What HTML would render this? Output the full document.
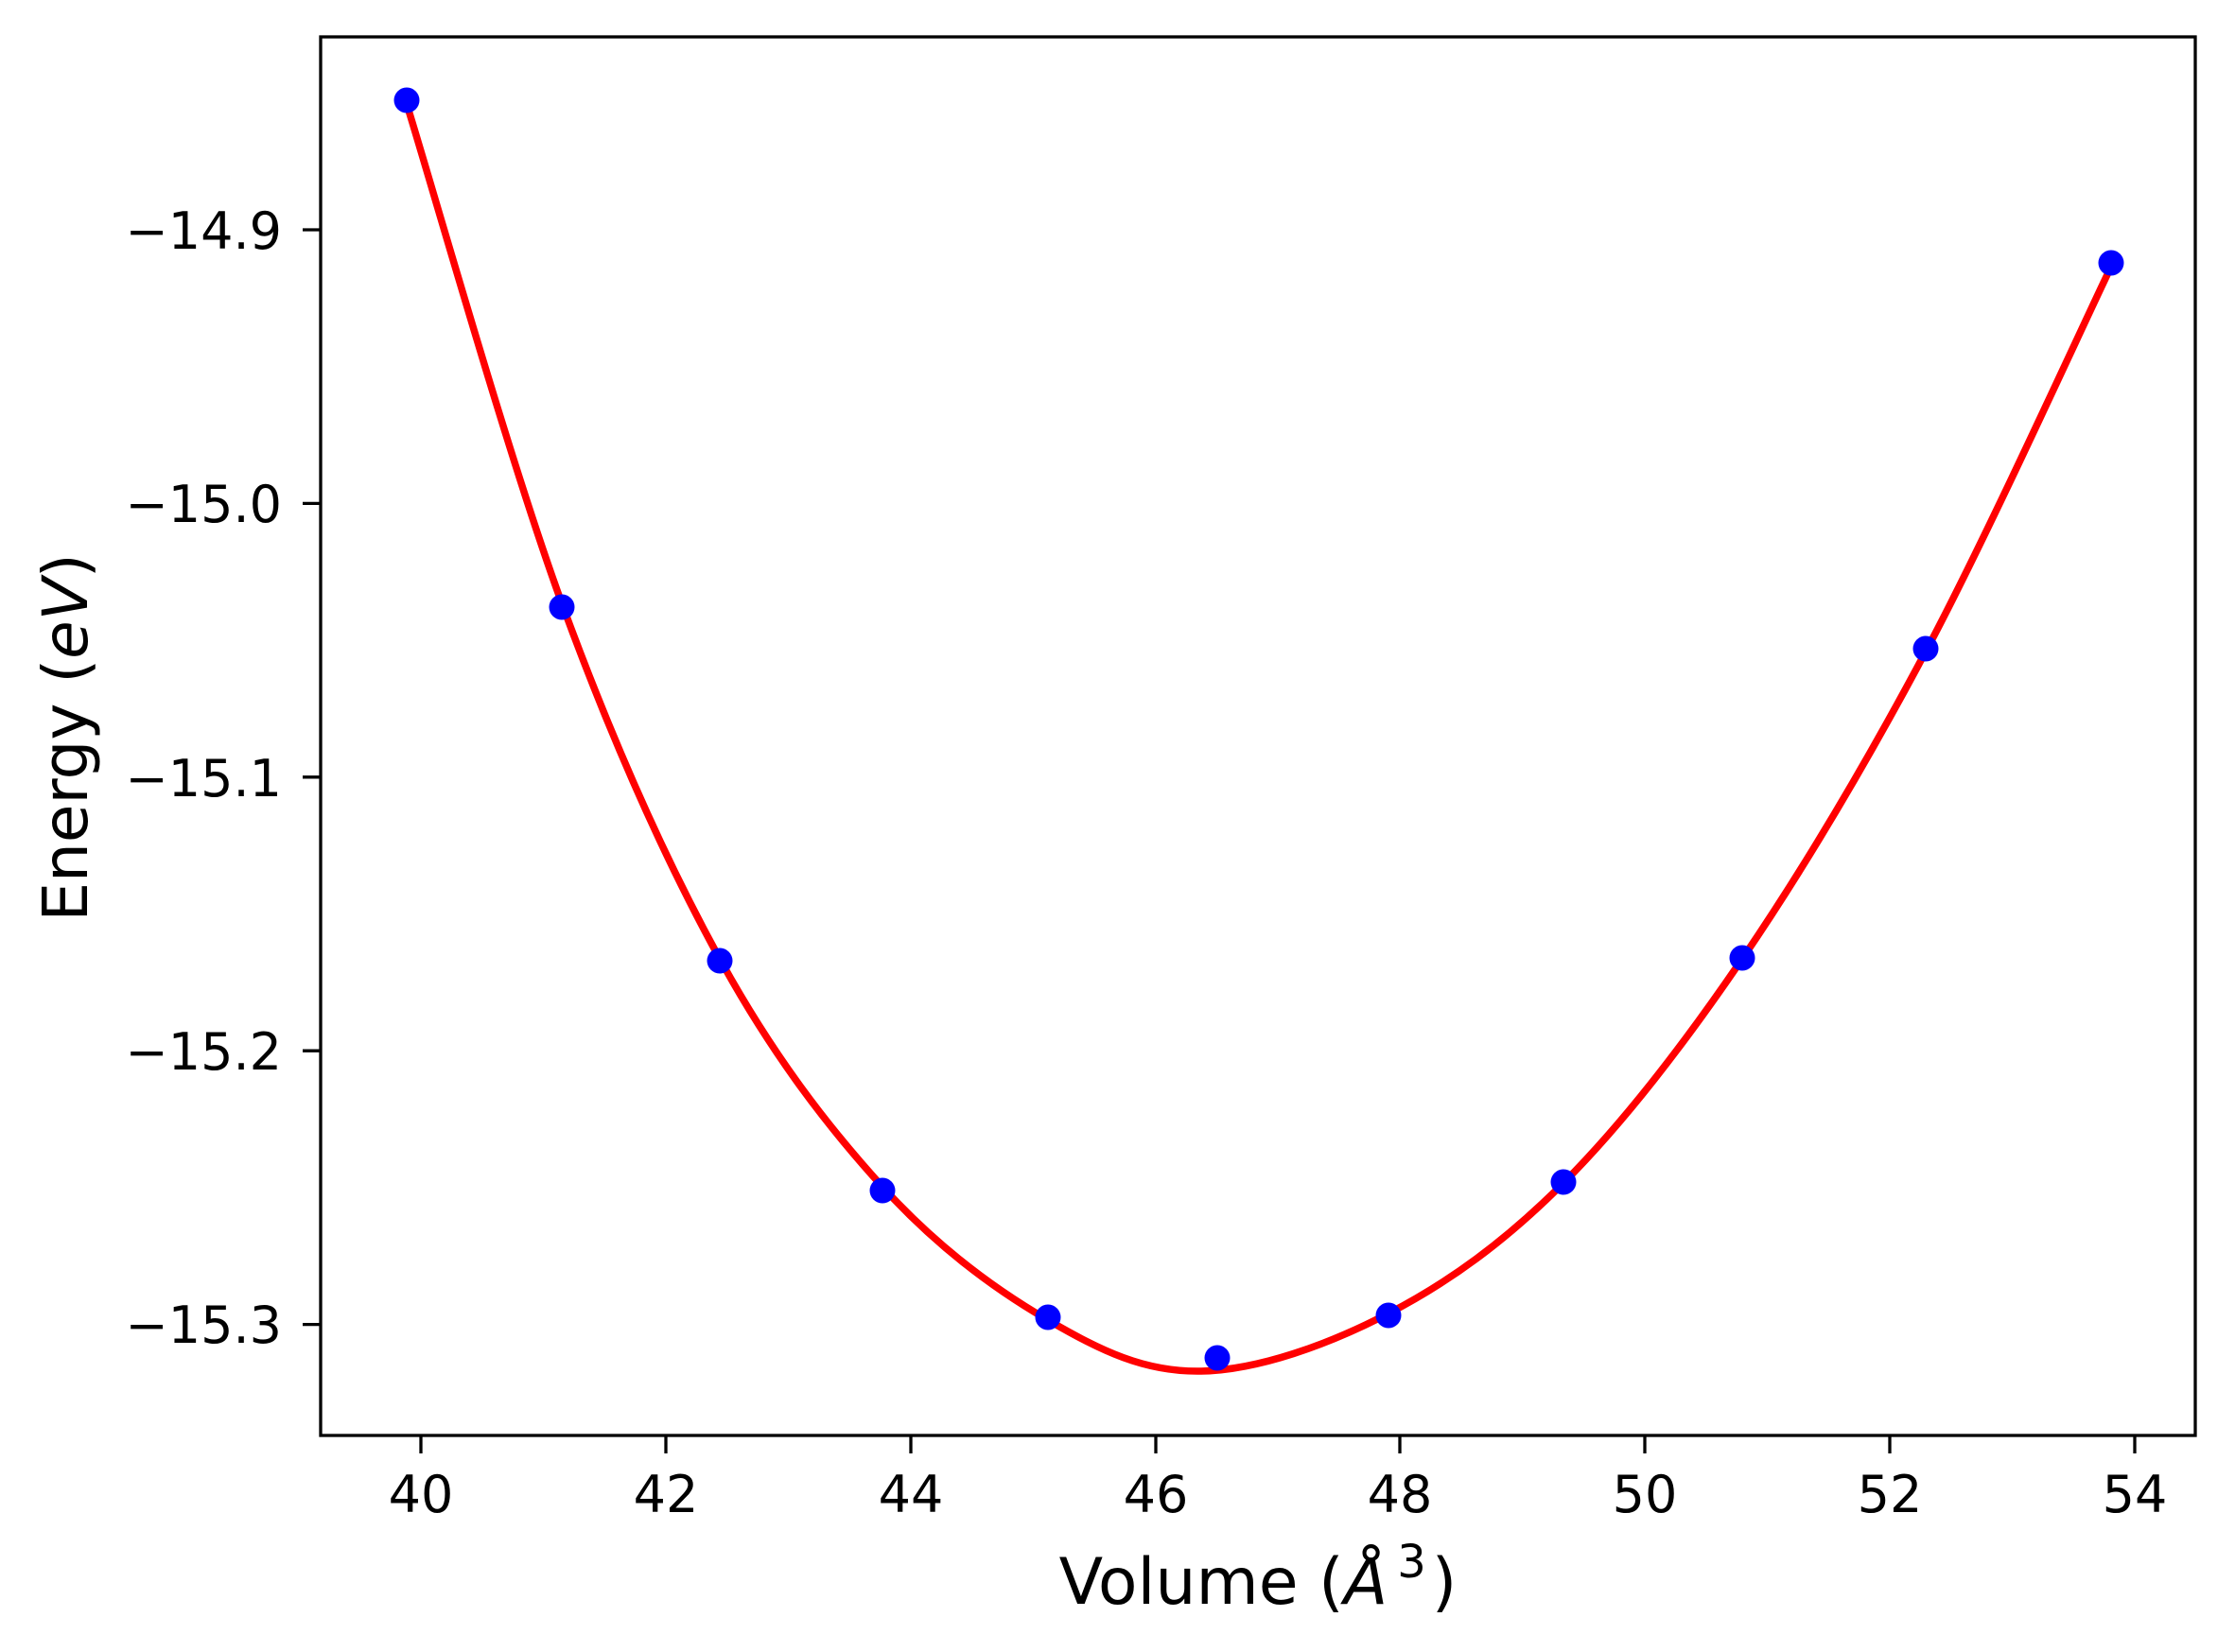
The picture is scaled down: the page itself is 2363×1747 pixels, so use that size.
<!DOCTYPE html>
<html><head><meta charset="utf-8"><style>
html,body{margin:0;padding:0;background:#fff}
svg{display:block}
text{font-family:"DejaVu Sans","Liberation Sans",sans-serif;fill:#000}
</style></head><body>
<svg id="s" width="2363" height="1747" viewBox="0 0 2363 1747" xmlns="http://www.w3.org/2000/svg">
<rect width="2363" height="1747" fill="#fff"/>
<path id="curve" d="" fill="none" stroke="#ff0000" stroke-width="7.5" stroke-linejoin="round" stroke-linecap="butt"/>
<g fill="#0000ff">
<circle cx="430" cy="106" r="13.5"/>
<circle cx="594" cy="642" r="13.5"/>
<circle cx="761" cy="1016" r="13.5"/>
<circle cx="933" cy="1259" r="13.5"/>
<circle cx="1108" cy="1393" r="13.5"/>
<circle cx="1287" cy="1436" r="13.5"/>
<circle cx="1468" cy="1391" r="13.5"/>
<circle cx="1653" cy="1250" r="13.5"/>
<circle cx="1842" cy="1013" r="13.5"/>
<circle cx="2036" cy="686" r="13.5"/>
<circle cx="2232" cy="278" r="13.5"/>
</g>
<rect x="339" y="39" width="1982" height="1479" fill="none" stroke="#000" stroke-width="3.3"/>
<g stroke="#000" stroke-width="3.3">
<line x1="320" y1="243" x2="339" y2="243"/>
<line x1="320" y1="532.4" x2="339" y2="532.4"/>
<line x1="320" y1="821.8" x2="339" y2="821.8"/>
<line x1="320" y1="1111.2" x2="339" y2="1111.2"/>
<line x1="320" y1="1400.6" x2="339" y2="1400.6"/>
<line x1="445" y1="1518" x2="445" y2="1537"/>
<line x1="704" y1="1518" x2="704" y2="1537"/>
<line x1="963" y1="1518" x2="963" y2="1537"/>
<line x1="1222" y1="1518" x2="1222" y2="1537"/>
<line x1="1480" y1="1518" x2="1480" y2="1537"/>
<line x1="1739" y1="1518" x2="1739" y2="1537"/>
<line x1="1998" y1="1518" x2="1998" y2="1537"/>
<line x1="2257" y1="1518" x2="2257" y2="1537"/>
</g>
<g font-size="54" text-anchor="end">
<text x="298" y="263">−14.9</text>
<text x="298" y="552">−15.0</text>
<text x="298" y="842">−15.1</text>
<text x="298" y="1131">−15.2</text>
<text x="298" y="1420">−15.3</text>
</g>
<g font-size="54" text-anchor="middle">
<text x="445" y="1599">40</text>
<text x="704" y="1599">42</text>
<text x="963" y="1599">44</text>
<text x="1222" y="1599">46</text>
<text x="1480" y="1599">48</text>
<text x="1739" y="1599">50</text>
<text x="1998" y="1599">52</text>
<text x="2257" y="1599">54</text>
</g>
<text x="1330" y="1696" font-size="68" text-anchor="middle">Volume (<tspan font-style="italic">Å</tspan><tspan font-size="48" dx="10" dy="-28">3</tspan><tspan dx="6" dy="28">)</tspan></text>
<text transform="translate(92,780) rotate(-90)" font-size="66" text-anchor="middle">Energy (<tspan font-style="italic">eV</tspan>)</text>
</svg>
<script>
var p=[[430,110],[594,638],[761,1014],[933,1255],[1108,1396],[1270,1450],[1468,1389],[1653,1251],[1842,1014],[2036,689],[2232,282]];
var d="M"+p[0][0]+","+p[0][1];
for(var i=0;i<p.length-1;i++){
var p0=p[i-1]||p[i],p1=p[i],p2=p[i+1],p3=p[i+2]||p[i+1];
var c1x=p1[0]+(p2[0]-p0[0])/6,c1y=p1[1]+(p2[1]-p0[1])/6;
var c2x=p2[0]-(p3[0]-p1[0])/6,c2y=p2[1]-(p3[1]-p1[1])/6;
d+=" C"+c1x+","+c1y+" "+c2x+","+c2y+" "+p2[0]+","+p2[1];}
document.getElementById("curve").setAttribute("d",d);
</script>
</body></html>
